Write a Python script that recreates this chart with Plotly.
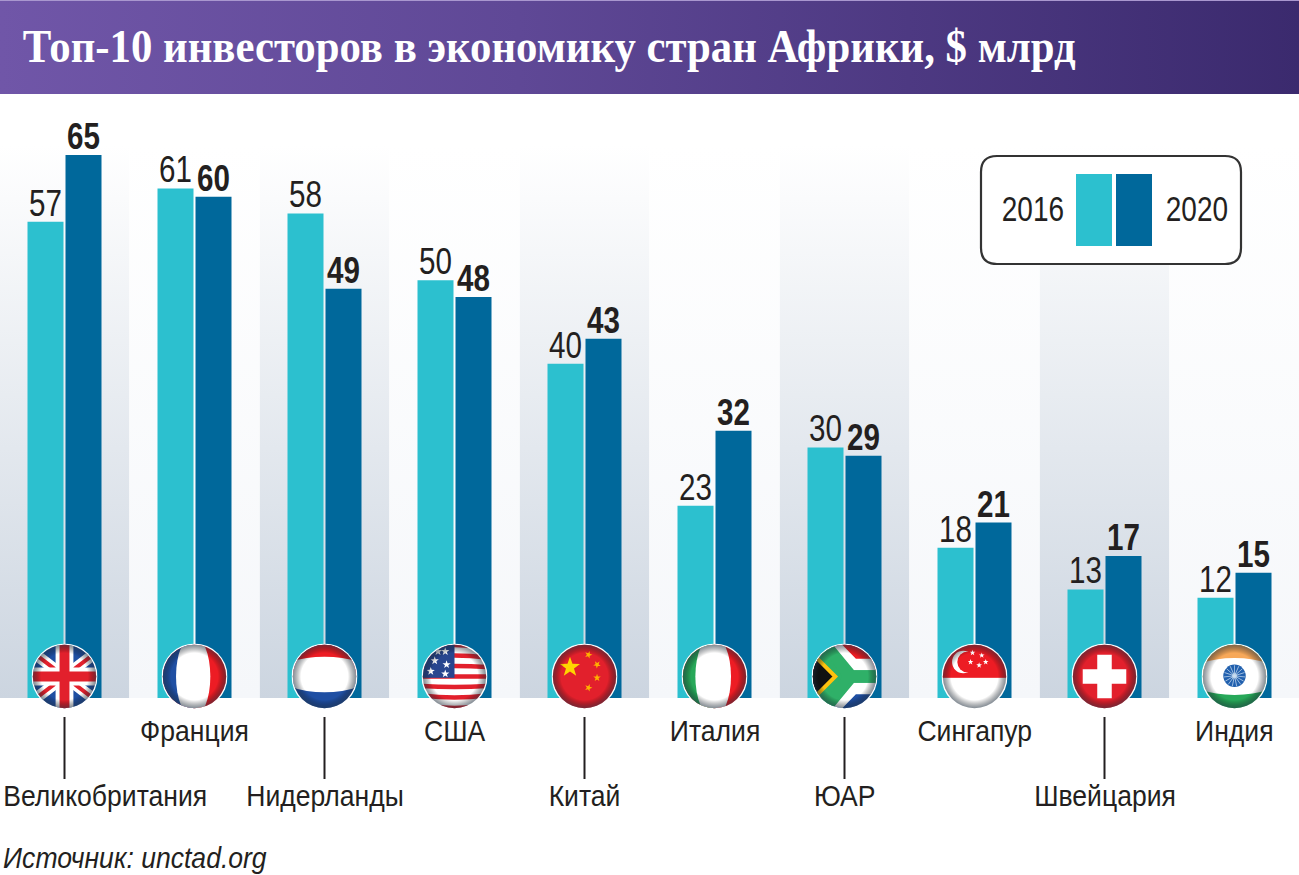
import base64
import math
import plotly.graph_objects as go

TITLE = "Топ-10 инвесторов в экономику стран Африки, $ млрд"
SOURCE = "Источник: unctad.org"
COUNTRIES = ["Великобритания", "Франция", "Нидерланды", "США", "Китай", "Италия", "ЮАР", "Сингапур", "Швейцария", "Индия"]
VALUES_2016 = [57, 61, 58, 50, 40, 23, 30, 18, 13, 12]
VALUES_2020 = [65, 60, 49, 48, 43, 32, 29, 21, 17, 15]
YEARS = ["2016", "2020"]

W, H = 1299, 875
BASE_PX, PX_PER_UNIT = 698.0, 543.0 / 65
SLOT, FIRST_CENTER = 130.0, 64.5
TEAL, BLUE, INK = "#2cc0cf", "#00689b", "#231f20"
SANS = "Liberation Sans, sans-serif"


def val(py):
    return (BASE_PX - py) / PX_PER_UNIT


def px(x):
    return x / W


def py(y):
    return 1 - y / H


def uri(svg):
    return "data:image/svg+xml;base64," + base64.b64encode(svg.encode("utf-8")).decode()


def star(cx, cy, r, fill="#fff", rot=0):
    pts = []
    for k in range(10):
        rr = r if k % 2 == 0 else r * 0.4
        a = math.radians(-90 + 36 * k + rot)
        pts.append(f"{cx + rr * math.cos(a):.2f},{cy + rr * math.sin(a):.2f}")
    return f'<polygon points="{" ".join(pts)}" fill="{fill}"/>'


FLAG_BODIES = {
    "Великобритания": (
        '<rect width="100" height="100" fill="#1f4fa3"/>'
        '<path d="M0 12L100 88M100 12L0 88" stroke="#fff" stroke-width="17"/>'
        '<path d="M0 12L100 88M100 12L0 88" stroke="#e2202c" stroke-width="6"/>'
        '<path d="M50 0V100M0 50H100" stroke="#fff" stroke-width="27"/>'
        '<path d="M50 0V100M0 50H100" stroke="#e2202c" stroke-width="15"/>'
    ),
    "Франция": (
        '<rect width="100" height="100" fill="#ed1c24"/>'
        '<rect width="50" height="100" fill="#1f4fa3"/>'
        '<ellipse cx="48" cy="50" rx="26" ry="62" fill="#fff"/>'
    ),
    "Нидерланды": (
        '<rect width="100" height="100" fill="#1f4fa3"/>'
        '<rect width="100" height="50" fill="#ed1c24"/>'
        '<ellipse cx="50" cy="47" rx="70" ry="27" fill="#fff"/>'
    ),
    "США": (
        '<rect width="100" height="100" fill="#fff"/>'
        + "".join(f'<path d="M-5 {y}Q50 {y + 14 * (y - 50) / 50:.1f} 105 {y}" fill="none" stroke="#e2202c" stroke-width="7"/>'
                  for y in [8, 22, 36, 50, 64, 78, 92])
        + '<rect width="50" height="52" fill="#28468f"/>'
        + "".join(star(x, y, 6.5) for x, y in [(36, 12), (20, 26), (38, 32), (14, 42), (36, 46), (25, 12)])
    ),
    "Китай": (
        '<rect width="100" height="100" fill="#e2202c"/>'
        + star(28, 36, 16, "#ffd400")
        + star(56, 17, 6, "#ffb000", 20) + star(69, 32, 6, "#ffb000", 40)
        + star(69, 52, 6, "#ffb000", 0) + star(56, 67, 6, "#ffb000", 20)
    ),
    "Италия": (
        '<rect width="100" height="100" fill="#ed1c24"/>'
        '<rect width="50" height="100" fill="#27a859"/>'
        '<ellipse cx="48" cy="50" rx="27" ry="62" fill="#fff"/>'
    ),
    "ЮАР": (
        '<rect width="100" height="100" fill="#1f4fa3"/>'
        '<rect width="100" height="50" fill="#ed1c24"/>'
        '<path d="M0 0L50 50L0 100" fill="#111"/>'
        '<path d="M0 6L44 50L0 94M28 0L62 35H105M28 100L62 65H105" fill="none" stroke="#fff" stroke-width="24"/>'
        '<path d="M12 -8L60 50H105M12 108L60 50" fill="none" stroke="#2fb068" stroke-width="19"/>'
        '<path d="M18 2L52 50H105M18 98L52 50" fill="none" stroke="#2fb068" stroke-width="19"/>'
        '<path d="M14 14L38 50L14 86" fill="none" stroke="#2fb068" stroke-width="14"/>'
        '<path d="M2 16L36 50L2 84L-8 50Z" fill="#111" stroke="#ffc20e" stroke-width="6"/>'
    ),
    "Сингапур": (
        '<rect width="100" height="100" fill="#fff"/>'
        '<rect width="100" height="52" fill="#ed1c24"/>'
        '<circle cx="33" cy="28" r="17" fill="#fff"/><circle cx="40" cy="28" r="16" fill="#ed1c24"/>'
        + star(47, 14, 4.5) + star(61, 18, 4.5) + star(44, 28, 4.5) + star(57, 33, 4.5) + star(67, 28, 4.5)
    ),
    "Швейцария": (
        '<rect width="100" height="100" fill="#e2202c"/>'
        '<path d="M50 17V83M17 50H83" stroke="#fff" stroke-width="22"/>'
    ),
    "Индия": (
        '<rect width="100" height="100" fill="#27a859"/>'
        '<rect width="100" height="50" fill="#f7a859"/>'
        '<ellipse cx="50" cy="50" rx="72" ry="28" fill="#fff"/>'
        '<circle cx="50" cy="49" r="17" fill="#2160ae"/>'
        '<circle cx="50" cy="49" r="4" fill="#8fb7de"/>'
        + "".join(f'<path d="M50 49L50 33" stroke="#cfe0f2" stroke-width="1" transform="rotate({a} 50 49)"/>' for a in range(0, 360, 24))
    ),
}


def flag_svg(body):
    return (
        '<svg xmlns="http://www.w3.org/2000/svg" viewBox="0 0 100 100" width="200" height="200">'
        '<defs><clipPath id="c"><circle cx="50" cy="50" r="48"/></clipPath>'
        '<radialGradient id="s"><stop offset="0.74" stop-color="#000" stop-opacity="0"/>'
        '<stop offset="1" stop-color="#203040" stop-opacity="0.55"/></radialGradient></defs>'
        f'<circle cx="50" cy="50" r="50" fill="#fff"/><g clip-path="url(#c)">{body}</g>'
        '<circle cx="50" cy="50" r="48" fill="url(#s)"/></svg>'
    )


def vgrad(bottom):
    return uri(
        '<svg xmlns="http://www.w3.org/2000/svg" viewBox="0 0 10 100" preserveAspectRatio="none" width="10" height="100">'
        f'<defs><linearGradient id="g" x1="0" y1="0" x2="0" y2="1"><stop offset="0" stop-color="#fff"/>'
        f'<stop offset="1" stop-color="{bottom}"/></linearGradient></defs>'
        '<rect width="10" height="100" fill="url(#g)"/></svg>'
    )


HEADER = uri(
    '<svg xmlns="http://www.w3.org/2000/svg" viewBox="0 0 1299 94" preserveAspectRatio="none" width="1299" height="94">'
    '<defs><linearGradient id="h"><stop offset="0" stop-color="#7056a8"/><stop offset="0.4" stop-color="#5f4896"/>'
    '<stop offset="1" stop-color="#3b2a6e"/></linearGradient></defs>'
    '<rect width="1299" height="94" fill="url(#h)"/><rect width="1299" height="1" fill="#a997cf"/></svg>'
)

fig = go.Figure()
for name, values, color, weight in [
    (YEARS[0], VALUES_2016, TEAL, "normal"),
    (YEARS[1], VALUES_2020, BLUE, "bold"),
]:
    fig.add_bar(
        name=name, x=COUNTRIES, y=values, marker=dict(color=color, line=dict(width=0)),
        text=[str(v) for v in values],
        textposition="outside", constraintext="none", cliponaxis=False,
        textfont=dict(family=SANS, size=37, color=INK, weight=weight),
    )

TOP = 145
images = [dict(source=HEADER, xref="paper", yref="paper", x=0, y=1, sizex=1, sizey=94 / H,
               xanchor="left", yanchor="top", sizing="stretch", layer="below")]
for i, c in enumerate(COUNTRIES):
    images.append(dict(source=vgrad("#ccd5e0" if i % 2 == 0 else "#f5f7fa"), xref="x", yref="y",
                       x=i, y=val(TOP), sizex=1, sizey=val(TOP), xanchor="center", yanchor="top",
                       sizing="stretch", layer="below"))
    images.append(dict(source=uri(flag_svg(FLAG_BODIES[c])), xref="x", yref="y", x=i, y=val(676.5),
                       sizex=66 / SLOT, sizey=66 / PX_PER_UNIT, xanchor="center", yanchor="middle",
                       sizing="stretch", layer="above"))

shapes = []
annotations = [
    dict(text=TITLE, xref="paper", yref="paper", x=px(549), y=py(46), xanchor="center", yanchor="middle",
         showarrow=False, font=dict(family="Liberation Serif, serif", size=46, color="#fff", weight="bold")),
    dict(text=SOURCE, xref="paper", yref="paper", x=px(134.5), y=py(857), xanchor="center", yanchor="middle",
         showarrow=False, font=dict(family=SANS, size=30, color=INK, style="italic")),
]
LABEL_SHIFT = {"Великобритания": 40}
for i, c in enumerate(COUNTRIES):
    lower = i % 2 == 0
    annotations.append(dict(text=c, xref="x", yref="y", x=c, y=val(795 if lower else 730), xshift=LABEL_SHIFT.get(c, 0),
                            xanchor="center", yanchor="middle", showarrow=False,
                            font=dict(family=SANS, size=30, color=INK)))
    if lower:
        shapes.append(dict(type="line", xref="x", yref="y", x0=c, x1=c, y0=val(717), y1=val(779),
                           line=dict(color=INK, width=2), layer="above"))

x0, x1, y0, y1, r = px(981), px(1241), py(156), py(264), 16
rx, ry = r / W, r / H
shapes.append(dict(
    type="path", xref="paper", yref="paper", fillcolor="#fff", line=dict(color="#333", width=2.2), layer="above",
    path=(f"M{x0 + rx},{y0} L{x1 - rx},{y0} Q{x1},{y0} {x1},{y0 - ry} L{x1},{y1 + ry} Q{x1},{y1} {x1 - rx},{y1} "
          f"L{x0 + rx},{y1} Q{x0},{y1} {x0},{y1 + ry} L{x0},{y0 - ry} Q{x0},{y0} {x0 + rx},{y0} Z")))
for a, b, color in [(1076, 1112, TEAL), (1116, 1152, BLUE)]:
    shapes.append(dict(type="rect", xref="paper", yref="paper", x0=px(a), x1=px(b), y0=py(174), y1=py(246),
                       fillcolor=color, line=dict(width=0), layer="above"))
for label, cx in zip(YEARS, (1033, 1197)):
    annotations.append(dict(text=label, xref="paper", yref="paper", x=px(cx), y=py(208), xanchor="center", yanchor="middle",
                            showarrow=False, font=dict(family=SANS, size=35, color=INK)))

fig.update_layout(
    width=W, height=H, margin=dict(l=0, r=0, t=0, b=0), autosize=False,
    paper_bgcolor="#fff", plot_bgcolor="rgba(0,0,0,0)", showlegend=False,
    barmode="group", bargap=1 - 76 / SLOT, bargroupgap=2 / 38,
    xaxis=dict(range=[-FIRST_CENTER / SLOT, (W - FIRST_CENTER) / SLOT], visible=False, type="category",
               categoryorder="array", categoryarray=COUNTRIES, domain=[0, 1]),
    yaxis=dict(range=[val(875), val(0)], visible=False, domain=[0, 1]),
    images=images, shapes=shapes, annotations=annotations,
)

# The reference uses a condensed face; none is installed, so the real text is narrowed in place.
POST = """
document.body.style.margin='0';document.body.style.overflow='hidden';
function squeeze(t,f){var w=t.getComputedTextLength();t.setAttribute('textLength',w*f);t.setAttribute('lengthAdjust','spacingAndGlyphs');}
var g=document.querySelector('.plotly-graph-div');
g.querySelectorAll('text.bartext').forEach(function(t){squeeze(t,0.8);t.setAttribute('dy','5');});
g.querySelectorAll('text.annotation-text').forEach(function(t){
  var s=parseFloat(t.style.fontSize);
  squeeze(t,s>=40?0.93:(s>=31?0.8:0.885));
});
"""
fig.write_html("out.html", post_script=POST, config={"displayModeBar": False})
